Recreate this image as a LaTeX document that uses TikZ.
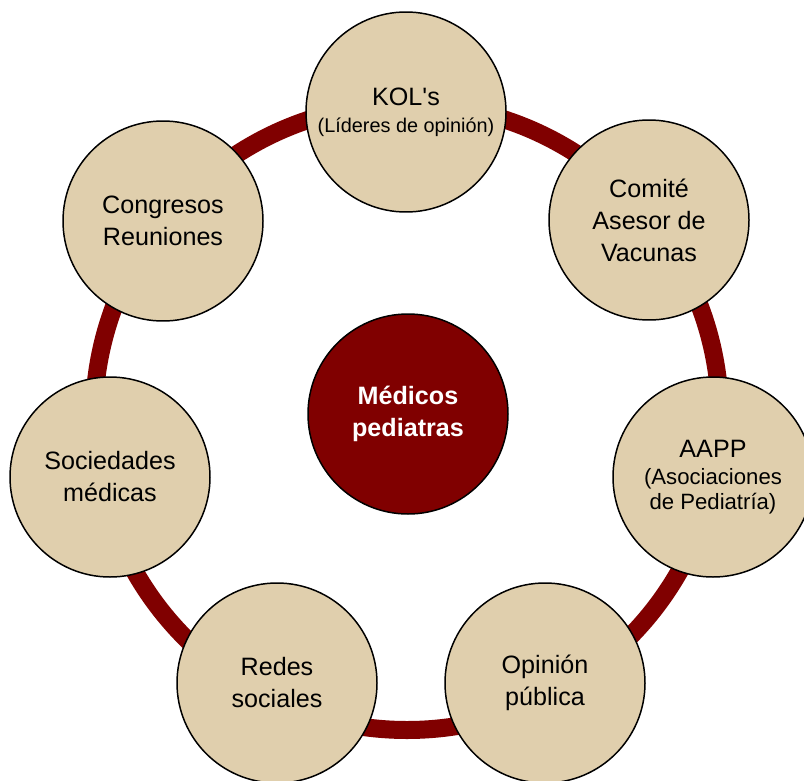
\documentclass[tikz,border=0pt]{standalone}
\usepackage{fontspec}
\setmainfont{Liberation Sans}
\definecolor{ringred}{RGB}{128,0,0}
\definecolor{tanfill}{RGB}{224,207,173}
\newcommand{\ringrad}{6.26}
\newcommand{\subtxt}[2][11.3]{{\fontsize{#1}{13}\selectfont #2}}
\tikzset{
  actor/.style = {circle, draw=black, line width=0.85pt, fill=tanfill, minimum size=4cm,
                  inner sep=0pt, align=center, font=\fontsize{14.3}{18.2}\selectfont},
  hub/.style   = {actor, fill=ringred, text=white, font=\fontsize{14.3}{18.2}\selectfont\bfseries},
  ring/.style  = {draw=ringred, line width=0.36cm},   % the band joining the actors
}

\begin{document}
\begin{tikzpicture}
      \useasboundingbox (0,0) rectangle (16.08,-15.62);
      \coordinate (ringc) at (8.14,-8.34);
      \draw[ring] (ringc) circle (\ringrad);
      % centre
      \node[hub] (medicos) at (8.16,-8.28) {Médicos\\pediatras};
      % the seven around it
      \node[actor] (kol)      at (8.12,-2.24)  {KOL\textquotesingle s\\[-3pt]\subtxt{(Líderes de opinión)}};
      \node[actor] (comite)   at (12.98,-4.40) {Comité\\Asesor de\\Vacunas};
      \node[actor] (aapp)     at (14.26,-9.54) {AAPP\\[-3pt]\subtxt[12.6]{(Asociaciones}\\[-4pt]\subtxt[12.6]{de Pediatría)}};
      \node[actor] (opinion)  at (10.90,-13.66) {Opinión\\pública};
      \node[actor] (redes)    at (5.54,-13.66) {Redes\\sociales};
      \node[actor] (sociedad) at (2.20,-9.54)  {Sociedades\\médicas};
      \node[actor] (congreso) at (3.26,-4.42)  {Congresos\\Reuniones};
    \end{tikzpicture}
\end{document}
